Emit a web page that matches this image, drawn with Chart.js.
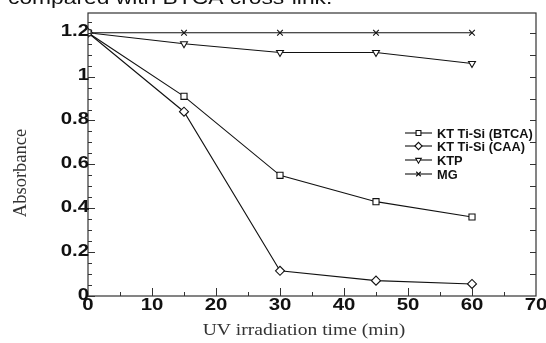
<!DOCTYPE html>
<html>
<head>
<meta charset="utf-8">
<script src="https://cdn.jsdelivr.net/npm/chart.js@4/dist/chart.umd.min.js"></script>
<style>
html,body{margin:0;padding:0;background:#fff;}
#wrap{width:546px;height:343px;position:relative;}
</style>
</head>
<body>
<div id="wrap"><canvas id="c" width="546" height="343"></canvas></div>
<script>
const times = [0, 15, 30, 45, 60];
const btca = [1.2, 0.91, 0.55, 0.43, 0.36];
const caa  = [1.2, 0.84, 0.115, 0.07, 0.055];
const ktp  = [1.2, 1.15, 1.11, 1.11, 1.06];
const mg   = [1.2, 1.2, 1.2, 1.2, 1.2];
const seriesLabels = ['KT Ti-Si (BTCA)', 'KT Ti-Si (CAA)', 'KTP', 'MG'];
const xTicks = [0, 10, 20, 30, 40, 50, 60, 70];
const yTicks = [0, 0.2, 0.4, 0.6, 0.8, 1, 1.2];
const xTitle = 'UV irradiation time (min)';
const yTitle = 'Absorbance';
const headText = 'compared with BTCA cross-link.';

const toXY = arr => arr.map((v, i) => ({x: times[i], y: v}));
const styles = [
  {pointStyle: 'rect', radius: 4.3, rotation: 0},
  {pointStyle: 'rectRot', radius: 4.5, rotation: 0},
  {pointStyle: 'triangle', radius: 4, rotation: 180},
  {pointStyle: 'crossRot', radius: 4, rotation: 0}
];
const dataArr = [btca, caa, ktp, mg];
const datasets = dataArr.map((d, i) => ({
  label: seriesLabels[i],
  data: toXY(d),
  borderColor: '#111',
  backgroundColor: '#fff',
  borderWidth: 1.1,
  pointStyle: styles[i].pointStyle,
  pointRadius: styles[i].radius,
  pointRotation: styles[i].rotation,
  pointBorderColor: '#111',
  pointBackgroundColor: '#fff',
  pointBorderWidth: 1.1,
  tension: 0
}));

function stretchText(ctx, txt, x, y, sx) {
  ctx.save();
  ctx.translate(x, y);
  ctx.scale(sx, 1);
  ctx.fillText(txt, 0, 0);
  ctx.restore();
}

const deco = {
  id: 'deco',
  afterDraw(chart) {
    const ctx = chart.ctx;
    const a = chart.chartArea;
    const xs = chart.scales.x, ys = chart.scales.y;
    ctx.save();
    // frame
    ctx.strokeStyle = '#333';
    ctx.lineWidth = 1.2;
    ctx.strokeRect(a.left, a.top, a.right - a.left, a.bottom - a.top);
    // y left ticks
    ctx.lineWidth = 1;
    ctx.beginPath();
    for (let k = 0; k <= 25; k++) {
      const v = k * 0.05;
      const py = Math.round(ys.getPixelForValue(v)) + 0.5;
      const len = (k % 4 === 0) ? 7 : 4;
      ctx.moveTo(a.left, py); ctx.lineTo(a.left + len, py);
    }
    // y right ticks every 0.1
    for (let k = 1; k <= 12; k++) {
      const v = k * 0.1;
      const py = Math.round(ys.getPixelForValue(v)) + 0.5;
      ctx.moveTo(a.right, py); ctx.lineTo(a.right - 6, py);
    }
    // x ticks
    for (let k = 1; k < 14; k++) {
      const v = k * 5;
      const px = Math.round(xs.getPixelForValue(v)) + 0.5;
      const len = (k % 2 === 0) ? 8 : 4;
      ctx.moveTo(px, a.bottom); ctx.lineTo(px, a.bottom - len);
    }
    ctx.stroke();

    // tick labels (bold, horizontally stretched like the reference)
    ctx.fillStyle = '#111';
    ctx.font = 'bold 17px "Liberation Sans", Arial, sans-serif';
    ctx.textBaseline = 'middle';
    ctx.textAlign = 'right';
    yTicks.forEach(v => {
      stretchText(ctx, String(v), a.left + 1, ys.getPixelForValue(v) - 1, 1.2);
    });
    ctx.textAlign = 'center';
    xTicks.forEach(v => {
      stretchText(ctx, String(v), xs.getPixelForValue(v), a.bottom + 9, 1.2);
    });

    // axis titles
    ctx.fillStyle = '#333';
    ctx.font = '17px "Liberation Serif", "Times New Roman", serif';
    ctx.textAlign = 'center';
    ctx.textBaseline = 'middle';
    stretchText(ctx, xTitle, 304, 331, 1.15);
    ctx.font = '18.5px "Liberation Serif", "Times New Roman", serif';
    ctx.save();
    ctx.translate(21, 173);
    ctx.rotate(-Math.PI / 2);
    ctx.fillText(yTitle, 0, 0);
    ctx.restore();

    // head text (cut off at top)
    ctx.fillStyle = '#111';
    ctx.font = '19px "Liberation Sans", Arial, sans-serif';
    ctx.textAlign = 'left';
    ctx.textBaseline = 'alphabetic';
    stretchText(ctx, headText, 8, 4, 1.2);

    // legend
    const lx0 = 405, lx1 = 432, tx = 437;
    const rows = [133, 146, 160, 174];
    ctx.font = 'bold 12.8px "Liberation Sans", Arial, sans-serif';
    ctx.textBaseline = 'middle';
    datasets.forEach((ds, i) => {
      const y = rows[i];
      ctx.strokeStyle = '#111';
      ctx.lineWidth = 1.1;
      ctx.beginPath();
      ctx.moveTo(lx0, y); ctx.lineTo(lx1, y);
      ctx.stroke();
      ctx.fillStyle = '#fff';
      Chart.helpers.drawPoint(ctx, {pointStyle: ds.pointStyle, radius: ds.pointRadius * 0.8, rotation: ds.pointRotation, borderWidth: 1.1}, (lx0 + lx1) / 2, y);
      ctx.fillStyle = '#111';
      ctx.fillText(ds.label, tx, y + 1);
    });
    ctx.restore();
  }
};

new Chart(document.getElementById('c'), {
  type: 'line',
  data: {datasets},
  options: {
    responsive: false,
    animation: false,
    layout: {padding: {left: 0, right: 10, top: 13, bottom: 0}},
    plugins: {legend: {display: false}, tooltip: {enabled: false}},
    scales: {
      x: {
        type: 'linear', min: 0, max: 70,
        afterBuildTicks: s => { s.ticks = xTicks.map(v => ({value: v})); },
        afterFit: s => { s.height = 47; },
        grid: {display: false, drawTicks: false},
        border: {display: false},
        ticks: {display: false}
      },
      y: {
        type: 'linear', min: 0, max: 1.29,
        afterBuildTicks: s => { s.ticks = yTicks.map(v => ({value: v})); },
        afterFit: s => { s.width = 88; },
        grid: {display: false, drawTicks: false},
        border: {display: false},
        ticks: {display: false}
      }
    }
  },
  plugins: [deco]
});
</script>
</body>
</html>
